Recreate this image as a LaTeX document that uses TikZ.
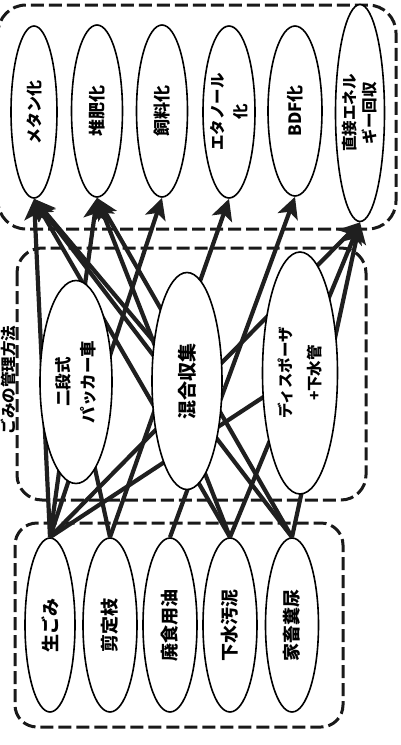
\documentclass[tikz,border=0pt]{standalone}
\usepackage{fontspec}
\newfontfamily\jp{Noto Sans CJK JP}
\usetikzlibrary{shapes.geometric,arrows.meta}
\begin{document}
\begin{tikzpicture}[x=1pt,y=-1pt,
  oval/.style={draw=black, line width=1.6pt, ellipse, fill=white, inner sep=0pt},
  lbl/.style={rotate=90, align=center, inner sep=0pt, font=\jp\bfseries\fontsize{17}{24}\selectfont},
  grp/.style={draw=black!90, line width=3pt, dash pattern=on 13pt off 5pt},
  flow/.style={draw=black!88, line width=4.2pt, -{Stealth[length=21pt,width=21pt,inset=5pt]}},
  feed/.style={draw=black!88, line width=4.2pt},
]
\useasboundingbox (0,0) rectangle (400,745);
% group boxes
\draw[grp, rounded corners=28pt] (-2,5) rectangle (396,229);
\draw[grp, rounded corners=25pt] (17,248) rectangle (366,500);
\draw[grp, rounded corners=22pt] (15,523) rectangle (343,727);
\node[lbl, font=\jp\bfseries\fontsize{15.5}{20}\selectfont] (title) at (8.5,380) {ごみの管理方法};
% targets
\node[oval, minimum width=46pt, minimum height=172pt] (t1) at (34,112) {};
\node[oval, minimum width=51pt, minimum height=172pt] (t2) at (97,111) {};
\node[oval, minimum width=51pt, minimum height=172pt] (t3) at (162,111) {};
\node[oval, minimum width=52pt, minimum height=172pt] (t4) at (229,112) {};
\node[oval, minimum width=54pt, minimum height=170pt] (t5) at (295,111) {};
\node[oval, minimum width=49pt, minimum height=217pt] (t6) at (360,113) {};
\node[lbl, font=\jp\bfseries\fontsize{16}{24}\selectfont] (t1l) at (t1) {メタン化};
\node[lbl] (t2l) at (t2) {堆肥化};
\node[lbl] (t3l) at (t3) {飼料化};
\node[lbl, font=\jp\bfseries\fontsize{15.5}{23}\selectfont] (t4l) at (t4) {エタノール\\化};
\node[lbl] (t5l) at (t5) {BDF化};
\node[lbl, font=\jp\bfseries\fontsize{15.5}{20}\selectfont] (t6l) at (t6) {直接エネル\\ギー回収};
% sources
\node[oval, minimum width=50pt, minimum height=174pt] (s1) at (50,625) {};
\node[oval, minimum width=54pt, minimum height=174pt] (s2) at (110,625) {};
\node[oval, minimum width=54pt, minimum height=174pt] (s3) at (170,625) {};
\node[oval, minimum width=54pt, minimum height=174pt] (s4) at (230,625) {};
\node[oval, minimum width=53pt, minimum height=174pt] (s5) at (292,625) {};
\node[lbl, font=\jp\bfseries\fontsize{18}{24}\selectfont] (s1l) at (s1) {生ごみ};
\node[lbl, font=\jp\bfseries\fontsize{18}{24}\selectfont] (s2l) at (s2) {剪定枝};
\node[lbl, font=\jp\bfseries\fontsize{18}{24}\selectfont] (s3l) at (s3) {廃食用油};
\node[lbl, font=\jp\bfseries\fontsize{18}{24}\selectfont] (s4l) at (s4) {下水汚泥};
\node[lbl, font=\jp\bfseries\fontsize{18}{24}\selectfont] (s5l) at (s5) {家畜糞尿};
% method centres
\coordinate (m1c) at (76,382);
\coordinate (m2c) at (187,381);
\coordinate (m3c) at (300,373);
% connectors
\draw[flow] (s1.north) -- (t1.south);
\draw[flow] (s1.north) -- (t2.south);
\draw[flow] (s1.north) -- (t3.south);
\draw[flow] (s1.north) -- (t6.south);
\draw[feed] (s1.north) -- (m3c);
\draw[flow] (m2c) -- (t1.south);
\draw[feed] (s2.north) -- (m1c);
\draw[flow] (s2.north) -- (t4.south);
\draw[flow] (s3.north) -- (t5.south);
\draw[flow] (s4.north) -- (t1.south);
\draw[flow] (s4.north) -- (t2.south);
\draw[flow] (s4.north) -- (t6.south);
\draw[flow] (s5.north) -- (t1.south);
\draw[flow] (s5.north) -- (t2.south);
\draw[flow] (s5.north) -- (t6.south);
% methods on top
\node[oval, minimum width=72pt, minimum height=203pt] (m1) at (m1c) {};
\node[oval, minimum width=70pt, minimum height=217pt] (m2) at (m2c) {};
\node[oval, minimum width=75pt, minimum height=242pt] (m3) at (m3c) {};
\node[lbl, font=\jp\bfseries\fontsize{16.5}{25}\selectfont] (m1l) at (m1) {二段式\\パッカー車};
\node[lbl, font=\jp\bfseries\fontsize{19}{24}\selectfont] (m2l) at (m2) {混合収集};
\node[lbl, font=\jp\bfseries\fontsize{15.5}{29}\selectfont] (m3l) at (m3) {ディスポーザ\\+下水管};
\end{tikzpicture}
\end{document}
